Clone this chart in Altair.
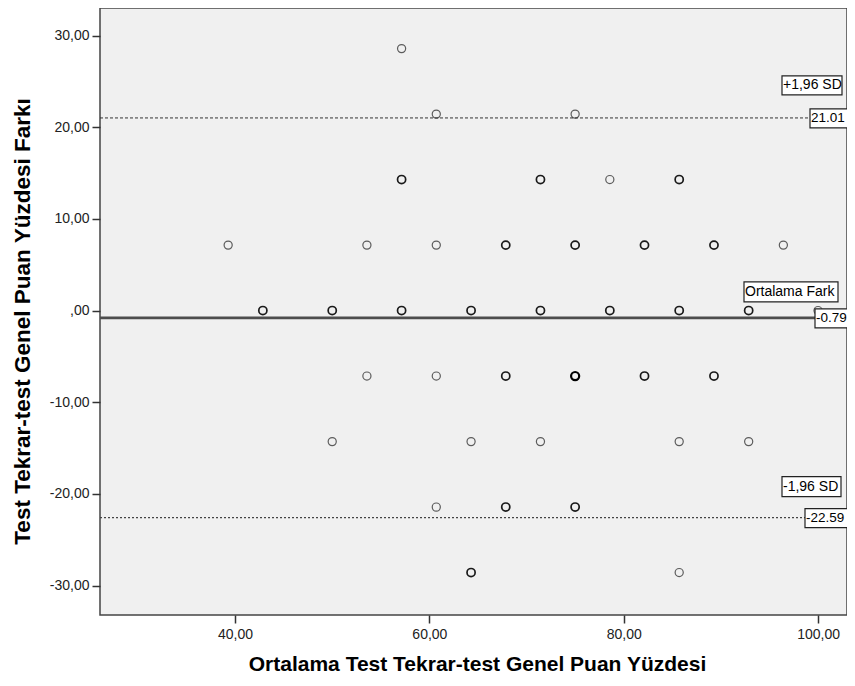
import altair as alt
import pandas as pd

# ---- data ----
x_vals = [57.14,
          60.71, 75.00,
          57.14, 71.43, 78.57, 85.71,
          39.29, 53.57, 60.71, 67.86, 75.00, 82.14, 89.29, 96.43,
          42.86, 50.00, 57.14, 64.29, 71.43, 78.57, 85.71, 92.86, 100.00,
          53.57, 60.71, 67.86, 75.00, 82.14, 89.29,
          50.00, 64.29, 71.43, 85.71, 92.86,
          60.71, 67.86, 75.00,
          64.29, 85.71]
y_vals = [28.57,
          21.43, 21.43,
          14.29, 14.29, 14.29, 14.29,
          7.14, 7.14, 7.14, 7.14, 7.14, 7.14, 7.14, 7.14,
          0, 0, 0, 0, 0, 0, 0, 0, 0,
          -7.14, -7.14, -7.14, -7.14, -7.14, -7.14,
          -14.29, -14.29, -14.29, -14.29, -14.29,
          -21.43, -21.43, -21.43,
          -28.57, -28.57]
n_vals = [1,
          1, 1,
          2, 2, 1, 2,
          1, 1, 1, 2, 2, 2, 2, 1,
          2, 2, 2, 2, 2, 2, 2, 2, 1,
          1, 1, 2, 3, 2, 2,
          1, 1, 1, 1, 1,
          1, 2, 2,
          2, 1]

ref_values = [21.01, -0.79, -22.59]
ref_names = ["+1,96 SD", "Ortalama Fark", "-1,96 SD"]
ref_numbers = ["21.01", "-0.79", "-22.59"]

x_ticks = [40, 60, 80, 100]
y_ticks = [-30, -20, -10, 0, 10, 20, 30]

x_title = "Ortalama Test Tekrar-test Genel Puan Yüzdesi"
y_title = "Test Tekrar-test Genel Puan Yüzdesi Farkı"

# ---- layout / style ----
W, H = 747, 607
FONT = "Liberation Sans"
xdom = [26.1, 102.98]
ydom = [-33.2, 33.0]

pts = pd.DataFrame({"x": x_vals, "y": y_vals, "n": n_vals})
refs = pd.DataFrame({"v": ref_values, "name": ref_names, "num": ref_numbers})

num_fmt = "(datum.value < 0 ? '-' : '') + (datum.value == 0 ? ',00' : replace(format(abs(datum.value), '.2f'), '.', ','))"

xs = alt.Scale(domain=xdom, nice=False, zero=False)
ys = alt.Scale(domain=ydom, nice=False, zero=False)

xenc = alt.X("x:Q", scale=xs, axis=alt.Axis(
    values=x_ticks, labelExpr=num_fmt, title=x_title, grid=False,
    tickSize=8, labelPadding=4, domain=False, titleFontSize=21,
    titleX=377, titleY=49, titleBaseline="middle"))
yenc = alt.Y("y:Q", scale=ys, axis=alt.Axis(
    values=y_ticks, labelExpr=num_fmt, title=y_title, grid=False,
    tickSize=8, labelPadding=3, domain=False, titleFontSize=22.5,
    titleX=-78, titleY=313, titleAngle=-90, titleAlign="center",
    titleBaseline="middle"))

points = alt.Chart(pts).mark_point(shape="circle", filled=False, size=66, opacity=1).encode(
    x=xenc, y=yenc,
    strokeWidth=alt.StrokeWidth("n:O", scale=alt.Scale(domain=[1, 2, 3], range=[1.2, 2.2, 2.6]), legend=None),
    color=alt.Color("n:O", scale=alt.Scale(domain=[1, 2, 3], range=["#5c5c5c", "#1a1a1a", "#000000"]), legend=None),
)

line_styles = [
    dict(color="#333333", strokeWidth=1, strokeDash=[3, 2]),
    dict(color="#4d4d4d", strokeWidth=2.8),
    dict(color="#444444", strokeWidth=1.2, strokeDash=[2, 2]),
]
name_box = [(682, 742, -42, -23), (644, 738, -36, -16), (682, 741, -41, -21)]
num_box_left = [710, 715, 705]

layers = [points]
for i in range(len(ref_values)):
    d = refs.iloc[[i]]
    yv = alt.Y("v:Q", scale=ys)
    layers.append(alt.Chart(d).mark_rule(**line_styles[i]).encode(
        y=yv, x=alt.value(0), x2=alt.value(W)))
    # name label box
    x1, x2, t, b = name_box[i]
    layers.append(alt.Chart(d).mark_rect(fill="white", stroke="#222222", strokeWidth=1.2,
                                         yOffset=t, y2Offset=b).encode(
        y=yv, y2="v:Q", x=alt.value(x1), x2=alt.value(x2)))
    layers.append(alt.Chart(d).mark_text(font=FONT, fontSize=14, color="#000000", align="left",
                                         baseline="middle", dx=1, dy=(t + b) / 2).encode(
        y=yv, x=alt.value(x1), text="name:N"))
    # number label box (runs into the plot edge)
    nl = num_box_left[i]
    layers.append(alt.Chart(d).mark_rect(fill="white", stroke="#222222", strokeWidth=1.2,
                                         yOffset=-9, y2Offset=10, clip=True).encode(
        y=yv, y2="v:Q", x=alt.value(nl), x2=alt.value(nl + 44)))
    layers.append(alt.Chart(d).mark_text(font=FONT, fontSize=13.5, color="#000000", align="left",
                                         baseline="middle", dx=1, dy=0.5).encode(
        y=yv, x=alt.value(nl), text="num:N"))

chart = alt.layer(*layers).properties(
    width=W, height=H,
    autosize=alt.AutoSizeParams(type="none"),
    padding={"left": 92, "top": 0, "right": 0, "bottom": 58},
).configure_view(
    fill="#f0f0f0", stroke="#444444", strokeWidth=1.5,
).configure_axis(
    labelFont=FONT, labelFontSize=14, labelColor="#222222",
    titleFont=FONT, titleFontWeight="bold", titleColor="#000000",
    tickColor="#333333", tickWidth=1.5,
)

chart.save("out.html", embed_options={"renderer": "svg", "actions": False})
